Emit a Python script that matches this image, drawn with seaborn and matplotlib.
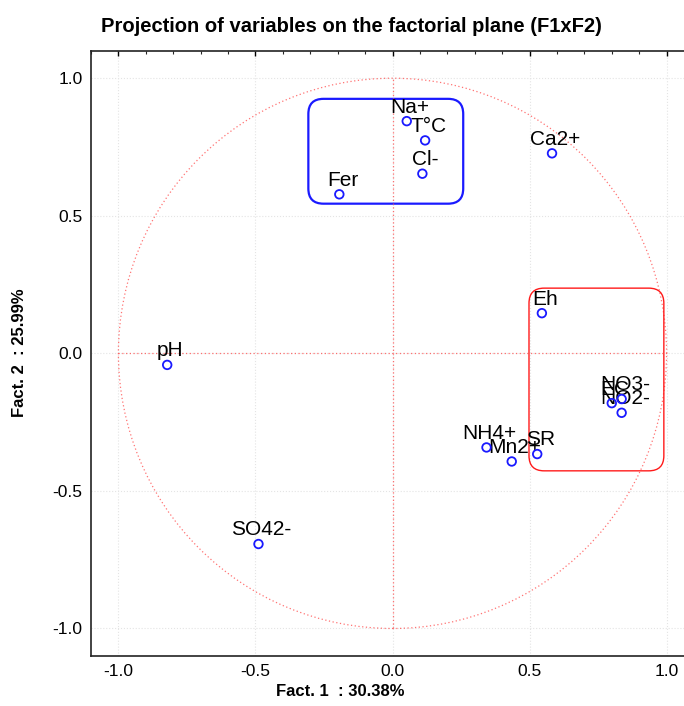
import matplotlib
matplotlib.use("Agg")
import matplotlib.pyplot as plt
import seaborn as sns
import pandas as pd
from matplotlib.patches import FancyBboxPatch, Circle
from matplotlib.ticker import MultipleLocator

# variable coordinates on F1 x F2
variables = ["Na+", "T°C", "Cl-", "Fer", "Ca2+", "Eh", "pH",
             "EC", "NO3-", "NO2-", "NH4+", "Mn2+", "SR", "SO42-"]
f1 = [0.052, 0.119, 0.109, -0.194, 0.582, 0.545, -0.822,
      0.800, 0.836, 0.836, 0.343, 0.435, 0.528, -0.489]
f2 = [0.844, 0.774, 0.653, 0.578, 0.727, 0.146, -0.042,
      -0.181, -0.166, -0.216, -0.342, -0.393, -0.366, -0.693]

ticks = [-1.0, -0.5, 0.0, 0.5, 1.0]
tick_labels = ["-1.0", "-0.5", "0.0", "0.5", "1.0"]

df = pd.DataFrame({"var": variables, "F1": f1, "F2": f2})

sns.set_theme(style="white")
plt.rcParams["font.family"] = ["Liberation Sans", "DejaVu Sans"]
plt.rcParams["axes.unicode_minus"] = False
plt.rcParams["text.color"] = "black"

fig = plt.figure(figsize=(6.84, 7.06), dpi=100)
ax = fig.add_axes([91 / 684, 50 / 706, 603 / 684, 605.3 / 706])

# unit circle and axes cross
dotted = dict(color="#ff5050", lw=0.9, linestyle=(0, (1, 2)), alpha=0.8)
ax.add_patch(Circle((0, 0), 1.0, fill=False, edgecolor="#ff5050", lw=0.9,
                    linestyle=(0, (1, 2)), alpha=0.8))
ax.plot([-1, 1], [0, 0], **dotted)
ax.plot([0, 0], [-1, 1], **dotted)

# groups
ax.add_patch(FancyBboxPatch((-0.307, 0.544), 0.565, 0.381,
                            boxstyle="round,pad=0,rounding_size=0.055",
                            fill=False, edgecolor="#1a1aff", lw=1.6))
ax.add_patch(FancyBboxPatch((0.498, -0.427), 0.492, 0.664,
                            boxstyle="round,pad=0,rounding_size=0.055",
                            fill=False, edgecolor="#ff1a1a", lw=1.0))

sns.scatterplot(data=df, x="F1", y="F2", ax=ax, marker="o", s=38,
                facecolor="none", edgecolor="#1a1aff", linewidth=1.3, zorder=5)

for name, x, y in zip(df["var"], df["F1"], df["F2"]):
    ax.annotate(name, (x, y), xytext=(2.3, 6.2), textcoords="offset points",
                ha="center", va="baseline", fontsize=15, color="black")

ax.set_xlim(-1.1, 1.1)
ax.set_ylim(-1.1, 1.1)
ax.set_xticks(ticks)
ax.set_xticklabels(tick_labels)
ax.set_yticks(ticks)
ax.set_yticklabels(tick_labels)
ax.xaxis.set_minor_locator(MultipleLocator(0.1))
ax.tick_params(axis="both", which="major", direction="in", length=3.5,
               width=1, labelsize=12.5, colors="black", top=True, pad=6)
ax.tick_params(axis="x", which="minor", direction="in", length=2, width=0.8, top=True)
ax.grid(True, which="major", color="#e4e4e4", linestyle=":", lw=0.8)
ax.set_axisbelow(True)
for side in ["left", "bottom", "top"]:
    ax.spines[side].set_color("#222222")
    ax.spines[side].set_linewidth(1.2)
ax.spines["right"].set_visible(False)
ax.set_xlabel("")
ax.set_ylabel("")

fig.text(351 / 684, 1 - 27 / 706, "Projection of variables on the factorial plane (F1xF2)",
         ha="center", va="center", fontsize=14.5, fontweight="bold", color="black")
fig.text(0.497, 1 - 692 / 706, "Fact. 1  : 30.38%", ha="center", va="center",
         fontsize=12, fontweight="bold", color="black")
fig.text(20 / 684, 1 - 353 / 706, "Fact. 2  : 25.99%", ha="center", va="center",
         rotation=90, fontsize=12, fontweight="bold", color="black")

fig.savefig("out.png", dpi=100)
